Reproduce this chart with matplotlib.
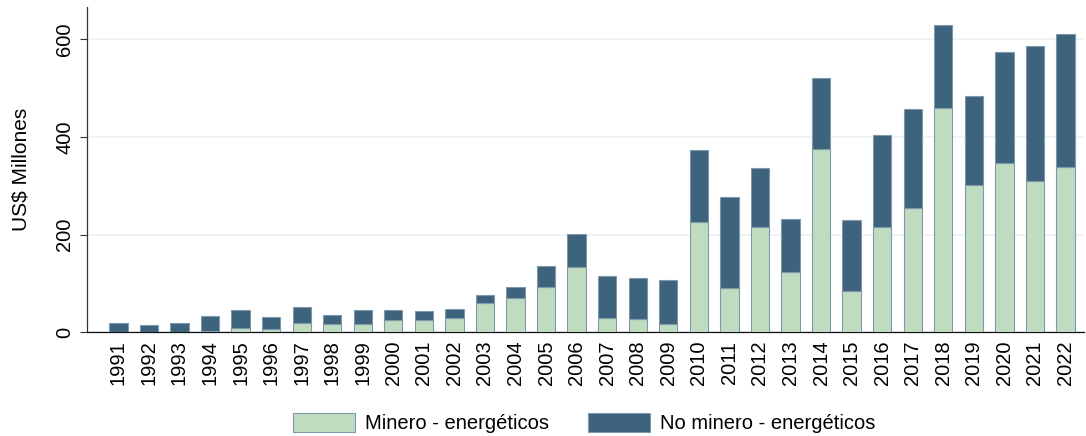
import numpy as np
import matplotlib
matplotlib.use('Agg')
import matplotlib.pyplot as plt

plt.rcParams['font.family'] = ['Liberation Sans', 'DejaVu Sans']

# datos (US$ millones)
years = [str(y) for y in range(1991, 2023)]
minero = [0, 0, 0, 3, 8, 7, 19, 16, 16, 25, 26, 29, 59, 70, 93, 134,
          29, 27, 17, 226, 90, 216, 124, 375, 85, 216, 255, 459, 302, 346, 309, 339]
total = [18, 14, 18, 33, 45, 31, 51, 35, 46, 46, 44, 47, 77, 93, 136, 202,
         115, 111, 107, 373, 276, 337, 231, 521, 230, 403, 458, 629, 483, 573, 587, 611]
no_minero = [t - m for t, m in zip(total, minero)]

c_green = '#c0dcc0'
c_blue = '#3e637d'
c_edge = '#7f98aa'

fig = plt.figure(figsize=(10.86, 4.36), dpi=100)
ax = fig.add_axes([0.080, 0.238, 0.918, 0.746])

x = np.arange(len(years))
ax.bar(x, minero, width=0.6, color=c_green, edgecolor=c_edge, linewidth=0.8,
       label='Minero - energéticos', zorder=3)
ax.bar(x, no_minero, width=0.6, bottom=minero, color=c_blue, edgecolor=c_edge,
       linewidth=0.8, label='No minero - energéticos', zorder=3)

ax.set_xlim(-1.03, 31.6)
ax.set_ylim(0, 666)
ax.set_yticks([0, 200, 400, 600])
ax.set_yticklabels(['0', '200', '400', '600'], rotation=90, va='center', fontsize=14.5)
ax.set_xticks(x)
ax.set_xticklabels(years, rotation=90, fontsize=14.5)
ax.tick_params(axis='x', length=0, pad=6)
ax.tick_params(axis='y', length=5, width=0.8, color='#333333', pad=4)
ax.set_ylabel('US$ Millones', fontsize=15, labelpad=18)

ax.grid(axis='y', color='#eaf2f2', linewidth=1.2, zorder=0)
for s in ['top', 'right']:
    ax.spines[s].set_visible(False)
ax.spines['left'].set_color('#333333')
ax.spines['bottom'].set_color('#111111')
ax.spines['left'].set_linewidth(0.9)
ax.spines['bottom'].set_linewidth(0.9)

fig.legend(loc='center', bbox_to_anchor=(0.538, 0.03), ncol=2, frameon=False,
           fontsize=14.5, handlelength=3.1, handleheight=1.1, columnspacing=1.9,
           handletextpad=0.5)

fig.savefig('out.png', dpi=100)
